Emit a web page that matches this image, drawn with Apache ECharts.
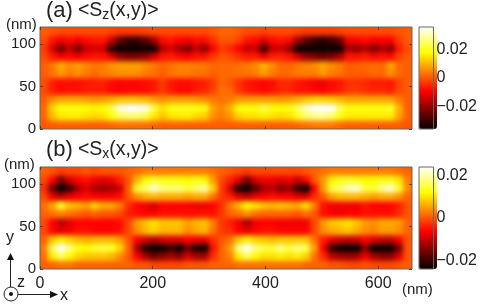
<!DOCTYPE html>
<html><head><meta charset="utf-8">
<style>
html,body{margin:0;padding:0;background:#fff}
#c{width:480px;height:305px}
canvas[data-zr-dom-id="zr_0"]{background:#ff5000;filter:blur(2.8px);clip-path:path('M40 27H412V129H40Z M40 167H412V269H40Z')}
</style>
<script src="https://cdn.jsdelivr.net/npm/echarts@6/dist/echarts.min.js"></script>
</head><body><div id="c"></div>
<script>
const xTicks=[0,200,400,600], yTicks=[0,50,100];
const szBarTicks=[-0.02,0,0.02], sxBarTicks=[-0.02,0,0.02];
const xSpan=660, ySpan=120, szLimit=0.036, sxLimit=0.024;
const hot=['#0a0000','#550000','#aa0000','#ff0000','#ff5500','#ffaa00','#ffff00','#ffff80','#ffffff'];
// values in units of 0.001; rows from y = 5 nm to y = 115 nm, 15 nm per column
const sz115=[1,0,-1,-1,-1,-1,-1,-1,-2,-3,-3, -3,-2,-1,-1,-1,-1,-1,-1,-1,0,2, 2,1,-1,-1,-2,-1,-1,-1,-2,-3,-3, -3,-3,-2,-1,-1,-1,-1,-1,-1,0,1];
const sz105=[-1,-7,-10,-8,-10,-8,-7,-7,-14,-26,-30, -30,-26,-18,-8,-7,-9,-10,-8,-8,-4,0, 0,-2,-7,-8,-12,-8,-7,-8,-18,-26,-30, -32,-30,-24,-10,-9,-8,-9,-9,-9,-3,1];
const sz95=[-3,-13,-24,-15,-24,-15,-13,-14,-32,-44,-44, -44,-44,-38,-17,-13,-18,-23,-15,-21,-9,-3, -5,-9,-15,-14,-30,-15,-14,-20,-38,-44,-44, -46,-44,-40,-18,-21,-17,-23,-17,-21,-6,-1];
const sz85=[-1,-6,-10,-8,-10,-8,-7,-7,-12,-20,-22, -22,-20,-13,-7,-6,-8,-9,-7,-7,-3,0, -1,-4,-6,-6,-10,-6,-5,-7,-13,-20,-22, -24,-22,-17,-7,-7,-6,-8,-7,-8,-2,1];
const sz75=[1,4,10,6,8,5,4,4,7,8,8, 8,6,4,2,3,5,5,4,4,2,2, 2,3,4,6,10,6,2,2,4,5,6, 9,6,4,1,1,2,3,2,9,2,1];
const sz65=[1,3,7,4,6,4,2,4,5,6,6, 6,4,3,1,3,4,4,3,3,1,2, 2,3,3,4,7,4,2,2,4,4,4, 7,4,3,1,1,1,2,2,6,2,1];
const sz55=[-1,-6,-8,-8,-8,-7,-6,-6,-8,-9,-9, -9,-8,-7,-3,-7,-8,-8,-7,-6,-3,2, 0,-4,-7,-8,-9,-8,-5,-5,-7,-8,-10, -11,-8,-7,-4,-4,-5,-6,-6,-7,-2,1];
const sz45=[-1,-6,-8,-7,-7,-6,-6,-6,-8,-9,-8, -8,-8,-6,-3,-6,-8,-8,-6,-5,-2,3, 2,-3,-6,-7,-8,-7,-5,-5,-7,-7,-8, -9,-7,-6,-3,-3,-4,-5,-5,-6,-1,1];
const sz35=[1,6,9,9,9,8,7,8,10,12,12, 12,11,8,6,8,8,8,7,6,4,3, 4,7,8,8,8,8,7,8,10,12,14, 14,13,11,9,9,9,9,9,9,4,1];
const sz25=[2,14,19,19,19,18,17,18,23,34,38, 38,34,23,15,19,20,20,19,19,8,5, 10,18,19,19,23,19,18,19,24,32,38, 42,36,24,19,19,19,19,19,21,10,1];
const sz15=[2,11,16,16,16,15,14,15,19,24,25, 25,23,16,12,15,16,16,14,13,6,4, 7,13,15,15,16,15,14,15,20,25,27, 28,25,19,16,16,16,16,16,16,8,1];
const sz5=[0,1,1,1,1,1,1,1,2,3,3, 3,3,2,1,1,1,1,1,1,1,1, 1,1,1,1,1,1,1,1,2,3,4, 4,4,2,1,1,1,1,1,1,1,0];
const sx115=[1,0,-2,-1,-1,0,-1,0,0,0,1, 2,3,3,3,3,3,3,3,3,2,1, 0,-1,-2,-1,-1,-1,-1,-1,-1,0,1, 2,3,3,3,3,3,3,3,3,2,1];
const sx105=[-1,-6,-16,-9,-6,-5,-7,-8,-7,-4,0, 7,12,14,13,13,12,12,13,12,5,-1, -4,-8,-16,-9,-7,-7,-8,-7,-10,-6,0, 5,11,13,14,13,12,12,13,13,10,3];
const sx95=[-3,-16,-32,-20,-12,-8,-12,-13,-12,-9,1, 14,17,22,18,17,18,15,17,20,9,-2, -9,-22,-34,-18,-12,-11,-15,-13,-20,-28,-6, 5,15,17,21,22,15,14,19,22,14,4];
const sx85=[-1,-7,-10,-7,-6,-5,-6,-6,-6,-5,0, 4,6,7,6,6,6,5,6,6,2,-2, -4,-8,-10,-7,-6,-5,-6,-6,-8,-8,-3, 0,5,7,7,7,6,5,6,6,4,1];
const sx75=[2,6,14,8,7,5,9,6,6,3,-3, -6,-7,-9,-6,-6,-6,-6,-7,-7,-6,-3, 3,7,12,10,8,7,8,7,6,10,3, -5,-7,-7,-7,-7,-5,-6,-6,-6,-4,0];
const sx65=[1,2,3,2,1,0,1,0,0,-1,-4, -5,-6,-6,-5,-5,-5,-5,-5,-5,-5,-2, 1,2,4,2,1,1,1,1,0,2,0, -5,-6,-7,-6,-6,-5,-5,-5,-5,-3,0];
const sx55=[-1,-6,-11,-8,-6,-6,-6,-6,-6,-5,-1, 5,8,10,8,8,8,5,7,8,3,-2, -4,-7,-12,-7,-6,-6,-7,-7,-7,-7,-1, 5,8,9,10,8,5,4,6,6,5,1];
const sx45=[-1,-6,-8,-7,-5,-5,-6,-6,-6,-5,-1, 4,7,9,7,7,7,4,6,7,2,-2, -3,-6,-8,-6,-5,-5,-6,-6,-6,-6,-1, 4,6,7,8,6,4,3,5,5,4,1];
const sx35=[1,8,11,9,7,6,7,7,7,5,0, -6,-9,-11,-9,-8,-8,-6,-7,-7,-3,0, 2,8,11,9,8,7,8,8,8,8,2, -4,-7,-9,-10,-9,-6,-8,-10,-10,-6,0];
const sx25=[3,16,28,18,13,12,14,15,14,9,1, -12,-22,-30,-26,-20,-24,-16,-22,-26,-5,1, 5,18,30,18,15,15,18,15,18,16,5, -6,-20,-24,-30,-24,-14,-24,-30,-30,-15,0];
const sx15=[2,11,16,12,9,8,8,8,7,4,0, -6,-12,-16,-14,-12,-14,-9,-12,-12,-3,1, 3,11,16,12,10,10,11,10,11,9,2, -3,-10,-12,-13,-12,-7,-12,-14,-14,-8,0];
const sx5=[1,1,2,2,1,1,1,1,1,1,1, 0,0,-1,-1,-1,-1,0,0,0,1,1, 1,2,2,2,2,2,2,2,2,1,1, 1,0,0,-1,-1,0,-1,-1,-1,0,1];

const szRows=[sz5,sz15,sz25,sz35,sz45,sz55,sz65,sz75,sz85,sz95,sz105,sz115];
const sxRows=[sx5,sx15,sx25,sx35,sx45,sx55,sx65,sx75,sx85,sx95,sx105,sx115];
const cells=rows=>rows.flatMap((r,j)=>r.map((v,i)=>[i,j,v/1000]));
const cols=szRows[0].map((_,i)=>i), rowIdx=szRows.map((_,j)=>j);
const ink='#222', edge='#666', font='"Liberation Sans",Arial,sans-serif';
const fmt=v=>v===0?'0':(v<0?'\u2212':'')+Math.abs(v);
const tick={inside:true,length:3,lineStyle:{color:'#444',width:1}};
const catX=g=>({type:'category',gridIndex:g,data:cols,show:false,zlevel:0,boundaryGap:true});
const catY=g=>({type:'category',gridIndex:g,data:rowIdx,show:false,zlevel:0,boundaryGap:true});
function valX(g,pos,labels){return {type:'value',gridIndex:g,position:pos,min:0,max:xSpan,zlevel:1,z:6,splitLine:{show:false},
  axisLine:{show:false},axisTick:{...tick,customValues:xTicks},
  axisLabel:{show:labels,customValues:xTicks,color:ink,fontSize:16,fontFamily:font,margin:7}};}
function valY(g,pos,labels){return {type:'value',gridIndex:g,position:pos,min:0,max:ySpan,zlevel:1,z:6,splitLine:{show:false},
  axisLine:{show:false},axisTick:{...tick,customValues:yTicks},
  axisLabel:{show:labels,customValues:yTicks,color:ink,fontSize:15,fontFamily:font,margin:4}};}
function barY(g,lim,ticks){return {type:'value',gridIndex:g,position:'right',min:-lim,max:lim,zlevel:1,z:6,splitLine:{show:false},
  axisLine:{show:false},axisTick:{show:false},
  axisLabel:{customValues:ticks,formatter:fmt,color:ink,fontSize:16,fontFamily:font,margin:3}};}
const barX=g=>({type:'value',gridIndex:g,min:0,max:1,show:false,zlevel:1});
const gridCommon={show:true,backgroundColor:'transparent',borderColor:edge,borderWidth:1,zlevel:1,z:5};
const normal={fontWeight:'normal',color:ink,fontFamily:font};
const richTitle={a:{fontSize:22,...normal},gap:{fontSize:22,...normal},b:{fontSize:19.5,...normal},s:{fontSize:14,...normal,padding:[8,0,0,0]}};
const txt=(style,x,y)=>({type:'text',x,y,zlevel:1,z:8,style:{fontFamily:font,fill:ink,...style}});
const stroke={stroke:'#222',lineWidth:1,fill:'none'};
const chart=echarts.init(document.getElementById('c'),null,{renderer:'canvas'});
chart.setOption({
  animation:false,backgroundColor:'transparent',
  title:[
    {left:46,top:0,zlevel:1,padding:0,text:'{a|(a)} {b|<S}{s|z}{b|(x,y)>}',textStyle:{fontWeight:'normal',rich:richTitle}},
    {left:46,top:139,zlevel:1,padding:0,text:'{a|(b)} {b|<S}{s|x}{b|(x,y)>}',textStyle:{fontWeight:'normal',rich:richTitle}}
  ],
  grid:[
    {left:40,top:27,width:372,height:102,...gridCommon},
    {left:40,top:167,width:372,height:102,...gridCommon},
    {left:419,top:27,width:18,height:102,...gridCommon},
    {left:419,top:167,width:18,height:102,...gridCommon}
  ],
  xAxis:[catX(0),valX(0,'bottom',false),valX(0,'top',false),catX(1),valX(1,'bottom',true),valX(1,'top',false),barX(2),barX(3)],
  yAxis:[catY(0),valY(0,'left',true),valY(0,'right',false),catY(1),valY(1,'left',true),valY(1,'right',false),barY(2,szLimit,szBarTicks),barY(3,sxLimit,sxBarTicks)],
  visualMap:[
    {type:'continuous',seriesIndex:0,min:-szLimit,max:szLimit,left:419,top:27,itemWidth:18,itemHeight:102,padding:0,text:null,calculable:false,hoverLink:false,inRange:{color:hot},zlevel:1,z:4},
    {type:'continuous',seriesIndex:1,min:-sxLimit,max:sxLimit,left:419,top:167,itemWidth:18,itemHeight:102,padding:0,text:null,calculable:false,hoverLink:false,inRange:{color:hot},zlevel:1,z:4}
  ],
  series:[
    {type:'heatmap',xAxisIndex:0,yAxisIndex:0,data:cells(szRows),zlevel:0,progressive:0},
    {type:'heatmap',xAxisIndex:3,yAxisIndex:3,data:cells(sxRows),zlevel:0,progressive:0}
  ],
  graphic:{elements:[
    txt({text:'(nm)',fontSize:15,textVerticalAlign:'middle'},6,25),
    txt({text:'(nm)',fontSize:15,textVerticalAlign:'middle'},4,165),
    txt({text:'(nm)',fontSize:15,textVerticalAlign:'middle'},402,290),
    txt({text:'y',fontSize:16,textVerticalAlign:'middle'},6,238),
    txt({text:'z',fontSize:16,textVerticalAlign:'middle'},17,283),
    txt({text:'x',fontSize:16,textVerticalAlign:'middle'},60,296),
    {type:'circle',zlevel:1,z:8,shape:{cx:11,cy:294,r:7},style:stroke},
    {type:'circle',zlevel:1,z:8,shape:{cx:11,cy:294,r:2},style:{fill:'#111'}},
    {type:'line',zlevel:1,z:8,shape:{x1:10.5,y1:287,x2:10.5,y2:256},style:stroke},
    {type:'line',zlevel:1,z:8,shape:{x1:18,y1:294.5,x2:54,y2:294.5},style:stroke},
    {type:'polygon',zlevel:1,z:8,shape:{points:[[10.5,253],[7,260],[14,260]]},style:{fill:'#111'}},
    {type:'polygon',zlevel:1,z:8,shape:{points:[[58,294.5],[50,291],[50,298]]},style:{fill:'#111'}}
  ]}
});
</script></body></html>
